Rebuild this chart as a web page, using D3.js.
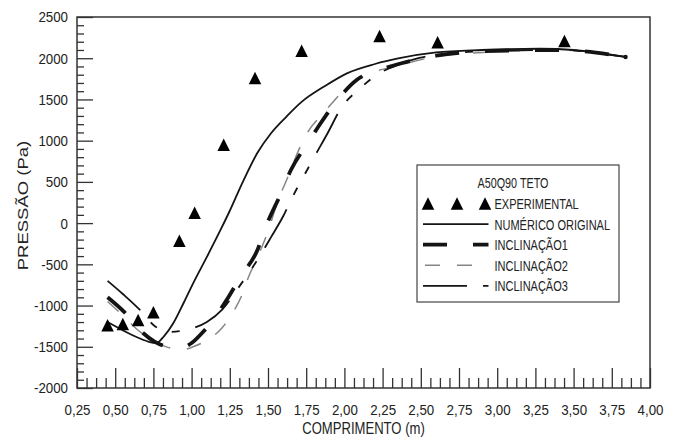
<!DOCTYPE html>
<html>
<head>
<meta charset="utf-8">
<script src="https://cdn.jsdelivr.net/npm/d3@7"></script>
<style>
  html, body { margin: 0; padding: 0; background: #fff; }
  svg { display: block; }
  text { font-family: "Liberation Sans", Arial, Helvetica, sans-serif; fill: #222; }
</style>
</head>
<body>
<svg id="chart" width="678" height="438"></svg>
<script>
// ---------------- DATA ----------------
const xTicks = [0.25,0.50,0.75,1.00,1.25,1.50,1.75,2.00,2.25,2.50,2.75,3.00,3.25,3.50,3.75,4.00];
const yTicks = [-2000,-1500,-1000,-500,0,500,1000,1500,2000,2500];

const experimentalX = [0.45,0.55,0.65,0.75,0.92,1.02,1.21,1.415,1.72,2.23,2.61,3.44];
const experimentalY = [-1240,-1225,-1175,-1080,-215,125,950,1760,2090,2270,2195,2210];

const numericoOriginal = [[0.45,-1200],[0.55,-1300],[0.65,-1390],[0.72,-1440],[0.77,-1455],[0.82,-1370],[0.88,-1215],[0.95,-960],[1.01,-730],[1.10,-410],[1.19,-80],[1.25,150],[1.33,480],[1.43,850],[1.52,1090],[1.62,1290],[1.72,1470],[1.87,1660],[2.02,1820],[2.20,1930],[2.36,2000],[2.60,2070],[2.90,2100],[3.28,2115],[3.50,2100],[3.84,2015]];

const inclinacao1 = [[0.45,-900],[0.56,-1080],[0.68,-1330],[0.76,-1440],[0.84,-1500],[0.92,-1515],[1.00,-1455],[1.07,-1330],[1.14,-1175],[1.23,-930],[1.32,-650],[1.43,-330],[1.49,-25],[1.58,340],[1.65,644],[1.76,970],[1.85,1226],[1.97,1530],[2.08,1736],[2.23,1857],[2.38,1942],[2.60,2030],[3.00,2090],[3.40,2100],[3.84,2015]];

const inclinacao2 = [[0.45,-950],[0.55,-1120],[0.65,-1300],[0.75,-1430],[0.85,-1510],[0.93,-1540],[1.01,-1500],[1.10,-1420],[1.20,-1270],[1.26,-1115],[1.33,-870],[1.37,-665],[1.43,-420],[1.50,-100],[1.56,244],[1.63,560],[1.71,923],[1.76,1105],[1.85,1311],[1.92,1457],[2.00,1620],[2.19,1833],[2.32,1894],[2.60,2020],[3.00,2080],[3.40,2100],[3.84,2015]];

const inclinacao3 = [[0.45,-700],[0.55,-860],[0.66,-1050],[0.75,-1235],[0.84,-1320],[0.92,-1310],[0.99,-1285],[1.10,-1200],[1.20,-1050],[1.30,-800],[1.43,-448],[1.52,-170],[1.60,86],[1.66,316],[1.74,590],[1.81,826],[1.89,1090],[1.98,1400],[2.10,1630],[2.21,1796],[2.35,1920],[2.49,2003],[2.70,2060],[3.00,2090],[3.40,2100],[3.84,2015]];

const legendTitle = "A50Q90 TETO";
const seriesNames = ["EXPERIMENTAL","NUMÉRICO ORIGINAL","INCLINAÇÃO1","INCLINAÇÃO2","INCLINAÇÃO3"];
const xTitle = "COMPRIMENTO (m)";
const yTitle = "PRESSÃO (Pa)";

// ---------------- LAYOUT ----------------
const L = 77, R = 650, T = 17, B = 388;
const squish = 0.77;
const tickSquish = 0.86;
const ink = "#141414";

const svg = d3.select("#chart");
svg.append("rect").attr("width",678).attr("height",438).attr("fill","#fff");

const x = d3.scaleLinear().domain([0.25,4]).range([L,R]);
const y = d3.scaleLinear().domain([-2000,2500]).range([B,T]);

const fmtX = d => d.toFixed(2).replace(".", ",");

// minor ticks
const xMinor = d3.range(0.25, 4.0001, 0.0625).filter(v => Math.abs(v*4 - Math.round(v*4)) > 1e-6);
const yMinor = d3.range(-2000, 2500, 100).filter(v => v % 500 !== 0);

function styleAxis(g){
  g.select(".domain").remove();
  g.selectAll(".tick line").attr("stroke", "#333").attr("stroke-width", 1.3);
  g.selectAll(".tick text").style("font-size","15.5px").attr("fill","#222")
    .each(function(){
      const t = d3.select(this);
      const ox = +t.attr("x") || 0;
      t.attr("x", ox / tickSquish).attr("transform", `scale(${tickSquish},1)`);
    });
}

svg.append("g").attr("transform",`translate(0,${B})`)
  .call(d3.axisBottom(x).tickValues(xMinor).tickSize(-10).tickFormat(""))
  .call(styleAxis);
svg.append("g").attr("transform",`translate(0,${B})`)
  .call(d3.axisBottom(x).tickValues(xTicks).tickSize(-20).tickPadding(16).tickFormat(fmtX))
  .call(styleAxis);
svg.append("g").attr("transform",`translate(${L},0)`)
  .call(d3.axisLeft(y).tickValues(yMinor).tickSize(-7).tickFormat(""))
  .call(styleAxis);
svg.append("g").attr("transform",`translate(${L},0)`)
  .call(d3.axisLeft(y).tickValues(yTicks).tickSize(-16).tickPadding(9).tickFormat(d => String(d)))
  .call(styleAxis);

// frame
svg.append("rect").attr("x",L).attr("y",T).attr("width",R-L).attr("height",B-T)
  .attr("fill","none").attr("stroke","#333").attr("stroke-width",1.5);

// axis titles (condensed like the reference)
svg.append("g").attr("transform",`translate(${(L+R)/2},434) scale(${squish},1)`)
  .append("text").attr("text-anchor","middle").style("font-size","17px").text(xTitle);
svg.append("g").attr("transform",`translate(27.5,${(T+B)/2+3}) rotate(-90) scale(1,${squish})`)
  .append("text").attr("text-anchor","middle").style("font-size","18.5px").text(yTitle);

// ---------------- SERIES ----------------
const line = d3.line().x(d => x(d[0])).y(d => y(d[1])).curve(d3.curveMonotoneX);

const styles = [
  null,
  {stroke: ink, width: 1.8, dash: null},
  {stroke: ink, width: 3.8, dash: "24,26"},
  {stroke: "#858585", width: 1.5, dash: "15,17"},
  {stroke: ink, width: 1.8, dash: "44,16,8,16,8,16"}
];
const seriesData = [null, numericoOriginal, inclinacao1, inclinacao2, inclinacao3];

[3,2,4,1].forEach(i => {
  const s = styles[i];
  svg.append("path").datum(seriesData[i])
    .attr("d", line).attr("fill","none")
    .attr("stroke", s.stroke).attr("stroke-width", s.width)
    .attr("stroke-dasharray", s.dash).attr("stroke-linecap","butt")
    .attr("stroke-linejoin","round");
});
// end dot
svg.append("circle").attr("cx", x(numericoOriginal[numericoOriginal.length-1][0]))
  .attr("cy", y(numericoOriginal[numericoOriginal.length-1][1])).attr("r", 2.2).attr("fill", ink);

// triangles
const triW = 12.5, triH = 12.5;
const triPath = (cx, cy) => `M${cx},${cy-triH/2}L${cx+triW/2},${cy+triH/2}L${cx-triW/2},${cy+triH/2}Z`;
svg.append("g").selectAll("path").data(experimentalX.map((v,i)=>[v, experimentalY[i]]))
  .join("path").attr("d", d => triPath(x(d[0]), y(d[1]))).attr("fill", "#000");

// ---------------- LEGEND ----------------
const lg = svg.append("g");
lg.append("rect").attr("x",417).attr("y",165).attr("width",202).attr("height",137)
  .attr("fill","#fff").attr("stroke","#444").attr("stroke-width",1.2);
lg.append("g").attr("transform",`translate(513,188) scale(${squish},1)`)
  .append("text").attr("text-anchor","middle").style("font-size","14px").text(legendTitle);

const rowY = i => 203.5 + i*20.6;
seriesNames.forEach((name, i) => {
  const cy = rowY(i);
  if (i === 0) {
    [428, 457, 485].forEach(cx => lg.append("path").attr("d", triPath(cx, cy)).attr("fill","#000"));
  } else {
    const s = styles[i];
    lg.append("line").attr("x1", i===3 ? 425 : 423).attr("x2", 488.5).attr("y1", cy).attr("y2", cy)
      .attr("stroke", s.stroke).attr("stroke-width", s.width).attr("stroke-dasharray", s.dash);
  }
  lg.append("g").attr("transform",`translate(494.5,${cy+5.5}) scale(0.76,1)`)
    .append("text").style("font-size","14.5px").text(name);
});
</script>
</body>
</html>
